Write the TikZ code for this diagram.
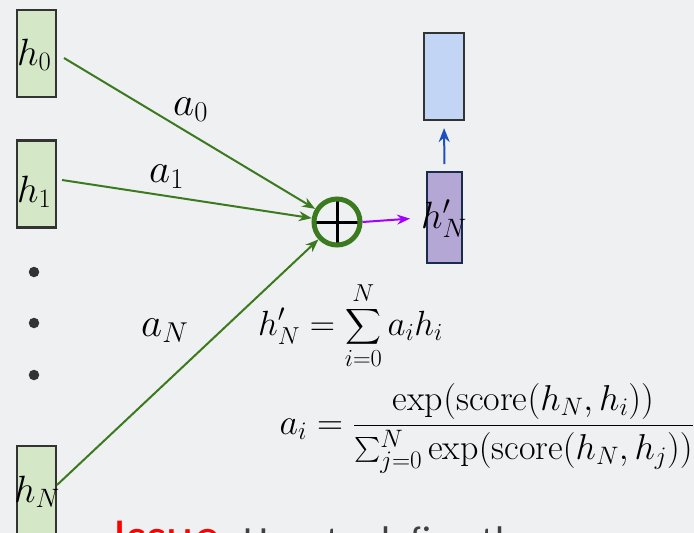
\RequirePackage{fix-cm}
\documentclass[tikz,border=0pt]{standalone}
\usepackage{exscale}
\usepackage{fontspec}
\newfontfamily\carlito{Carlito}
\usetikzlibrary{arrows.meta}
\definecolor{bgc}{HTML}{EFF0F2}
\definecolor{hfill}{HTML}{D4E7C6}
\definecolor{boxline}{HTML}{333333}
\definecolor{edgegreen}{HTML}{3B7A1E}
\definecolor{magc}{HTML}{A200FF}
\definecolor{purpfill}{HTML}{B4A7D6}
\definecolor{navyline}{HTML}{1A2C4D}
\definecolor{bluefill}{HTML}{C2D5F5}
\definecolor{bluearr}{HTML}{1F4FBF}
\definecolor{dotc}{HTML}{333333}
\definecolor{issuegray}{HTML}{404040}
\begin{document}
\begin{tikzpicture}[x=1pt,y=-1pt,
  hbox/.style={draw=boxline,fill=hfill,line width=2.2pt,minimum width=39pt,minimum height=87pt,inner sep=0pt,outer sep=0pt},
  hlabel/.style={anchor=base west,inner sep=0pt,font=\fontsize{38}{42}\selectfont},
  alabel/.style={anchor=base west,inner sep=0pt,font=\fontsize{41}{46}\selectfont},
  formula/.style={inner sep=0pt,font=\fontsize{35}{40}\selectfont},
  wedge/.style={draw=edgegreen,line width=2pt,-{Stealth[length=13pt,width=10pt]}},
  dotmark/.style={circle,fill=dotc,minimum size=10.5pt,inner sep=0pt},
  plusnode/.style={circle,draw=edgegreen,line width=5pt,minimum size=46pt,inner sep=0pt,
    path picture={\draw[black,line width=3pt] (path picture bounding box.west) -- (path picture bounding box.east)
      (path picture bounding box.north) -- (path picture bounding box.south);}}
]
\clip (0,0) rectangle (694,533);
\fill[bgc] (0,0) rectangle (694,533);

% left boxes
\node[hbox] (h0) at (36.5,53.5) {};
\node[hbox] (h1) at (36.5,184) {};
\node[hbox,minimum height=120pt] (hN) at (36.5,506) {};
\node[hlabel] (lh0) at (17,65) {$h_0$};
\node[hlabel] (lh1) at (17,202) {$h_1$};
\node[hlabel] (lhN) at (14,502) {$h_N$};

% dots
\node[dotmark] (d1) at (34,272) {};
\node[dotmark] (d2) at (34,323) {};
\node[dotmark] (d3) at (34,375) {};

% sum node
\node[plusnode] (plus) at (337,222) {};

% edges
\draw[wedge] ([shift={(8,4.5)}]h0.east) -- (plus);
\draw[wedge] ([shift={(6,-4)}]h1.east) -- (plus);
\draw[wedge] ([shift={(1,-21)}]hN.east) -- (plus);

% edge labels
\node[alabel] (a0) at (173,115) {$a_0$};
\node[alabel] (a1) at (149,182) {$a_1$};
\node[alabel] (aN) at (141,336) {$a_N$};

% output boxes
\node[draw=navyline,fill=purpfill,line width=2pt,minimum width=35pt,minimum height=91pt,inner sep=0pt] (hNp) at (444.5,217.5) {};
\node[hlabel] (lhNp) at (421,228) {$h'_N$};
\node[draw=boxline,fill=bluefill,line width=2.2pt,minimum width=40pt,minimum height=87pt,inner sep=0pt] (top) at (444,76.5) {};

\draw[magc,line width=2pt,-{Stealth[length=13pt,width=10pt]},shorten >=16pt] (plus.east) -- (hNp.west);
\draw[bluearr,line width=2pt,-{Stealth[length=14pt,width=11pt]},shorten <=7pt,shorten >=7pt] (hNp.north) -- (top.south);

% formulas
\node[formula,anchor=west] (f1) at (258,326) {$\displaystyle h'_N=\sum_{i=0}^{N}a_ih_i$};
\node[formula,anchor=east,font=\fontsize{36}{41}\selectfont] (f2) at (694,428) {$\displaystyle a_i=\frac{\exp(\mathrm{score}(h_N,h_i))}{\sum_{j=0}^{N}\exp(\mathrm{score}(h_N,h_j))}$};

% issue text
\node[anchor=base west,inner sep=0pt,font=\carlito\fontsize{52}{56}\selectfont,text=red] (issue) at (113,554) {Issue};
\node[anchor=base west,inner sep=0pt,font=\carlito\fontsize{40}{44}\selectfont,text=issuegray] (issue2) at (issue.base east) {: How to define the};
\end{tikzpicture}
\end{document}
